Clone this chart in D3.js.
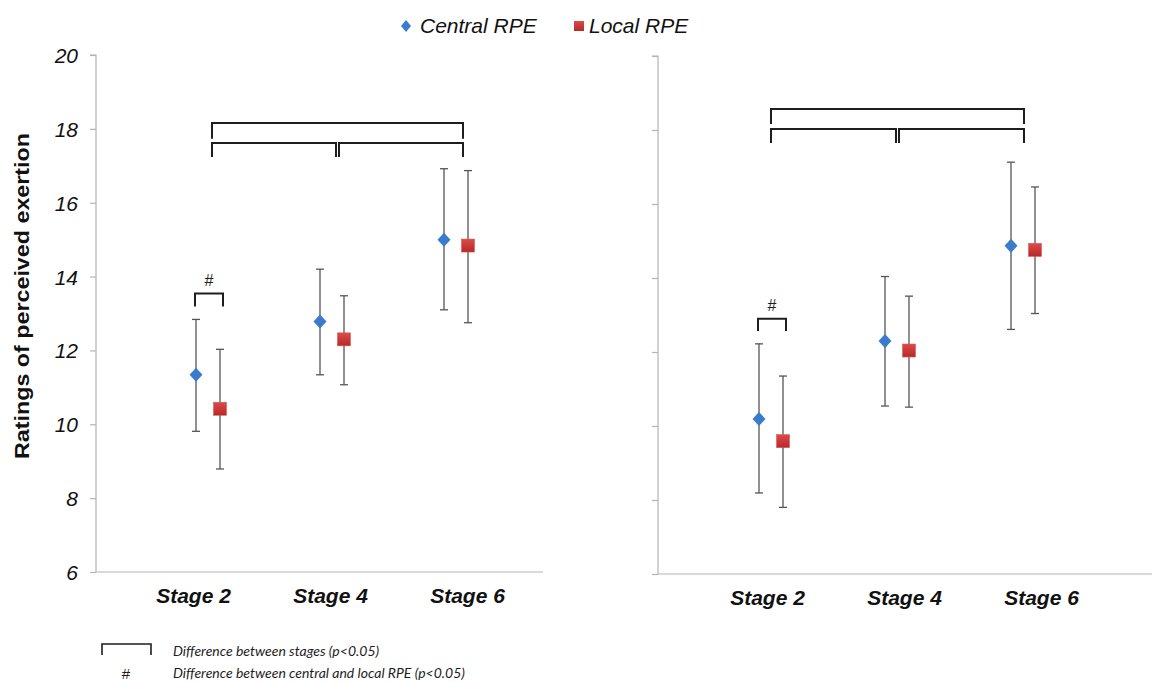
<!DOCTYPE html>
<html>
<head>
<meta charset="utf-8">
<script src="https://cdn.jsdelivr.net/npm/d3@7"></script>
<style>
  body { margin: 0; background: #fff; }
  svg { display: block; }
</style>
</head>
<body>
<svg id="chart" width="1152" height="682"></svg>
<script>
// ---- data ----
const stages = ["Stage 2", "Stage 4", "Stage 6"];
const yTicks = [6, 8, 10, 12, 14, 16, 18, 20];
const seriesNames = ["Central RPE", "Local RPE"];

// left panel: mean and error-bar ends
const centralA    = [11.34, 12.78, 15.00];
const centralA_hi = [12.84, 14.20, 16.92];
const centralA_lo = [9.81, 11.34, 13.10];
const localA      = [10.42, 12.30, 14.84];
const localA_hi   = [12.03, 13.48, 16.87];
const localA_lo   = [8.79, 11.07, 12.75];

// right panel: mean and error-bar ends
const centralB    = [10.19, 12.30, 14.87];
const centralB_hi = [12.22, 14.04, 17.13];
const centralB_lo = [8.19, 10.54, 12.61];
const localB      = [9.59, 12.04, 14.76];
const localB_hi   = [11.35, 13.51, 16.46];
const localB_lo   = [7.80, 10.51, 13.04];

// significance brackets between stages (stage indices, bar level, leg end)
const stageBracketsA = [
  { from: 0, to: 2, top: 18.16, foot: 17.73 },
  { from: 0, to: 1, top: 17.62, foot: 17.24 },
  { from: 1, to: 2, top: 17.62, foot: 17.24 }
];
const stageBracketsB = [
  { from: 0, to: 2, top: 18.57, foot: 18.16 },
  { from: 0, to: 1, top: 18.03, foot: 17.65 },
  { from: 1, to: 2, top: 18.03, foot: 17.65 }
];
// central vs local difference marks
const hashA = [{ stage: 0, top: 13.54, foot: 13.19 }];
const hashB = [{ stage: 0, top: 12.90, foot: 12.57 }];

const noteLines = [
  "Difference between stages (p<0.05)",
  "Difference between central and local RPE (p<0.05)"
];

// ---- layout ----
const BLUE = "#3b7bcc";
const RED = "#c62f2f";
const AXIS = "#b3b3b3";
const ERR = "#555";
const INK = "#1e1e1e";
const FONT = "'Liberation Sans', Arial, sans-serif";

const svg = d3.select("#chart");
const defs = svg.append("defs");
const grad = defs.append("linearGradient").attr("id", "redFill")
  .attr("x1", 0).attr("y1", 0).attr("x2", 0).attr("y2", 1);
grad.append("stop").attr("offset", "0%").attr("stop-color", "#dc4a48");
grad.append("stop").attr("offset", "100%").attr("stop-color", "#b8292a");

const panels = [
  {
    axisX: 96, endX: 543, yTop: 55, yBottom: 572,
    groups: [208, 456], labels: [193, 467], brackets: [212, 463],
    tickLabels: true,
    central: centralA, centralHi: centralA_hi, centralLo: centralA_lo,
    local: localA, localHi: localA_hi, localLo: localA_lo,
    stageBrackets: stageBracketsA, hash: hashA
  },
  {
    axisX: 658, endX: 1152, yTop: 56, yBottom: 574,
    groups: [771, 1023], labels: [767, 1041], brackets: [771, 1024],
    tickLabels: false,
    central: centralB, centralHi: centralB_hi, centralLo: centralB_lo,
    local: localB, localHi: localB_hi, localLo: localB_lo,
    stageBrackets: stageBracketsB, hash: hashB
  }
];

const SERIES_OFFSET = 12;

panels.forEach(p => {
  const g = svg.append("g");
  const y = d3.scaleLinear().domain([6, 20]).range([p.yBottom, p.yTop]);
  const gx = d3.scalePoint().domain(stages).range(p.groups);
  const lx = d3.scalePoint().domain(stages).range(p.labels);
  const bx = d3.scalePoint().domain(stages).range(p.brackets);

  // y axis
  const yAxis = d3.axisLeft(y).tickValues(yTicks).tickSize(6).tickPadding(12)
    .tickFormat(p.tickLabels ? d3.format("d") : "");
  const ya = g.append("g").attr("transform", `translate(${p.axisX},0)`).call(yAxis);
  ya.select(".domain").attr("stroke", AXIS).attr("stroke-width", 1.2)
    .attr("d", `M-6,${p.yTop}H0V${p.yBottom}`);
  ya.selectAll(".tick line").attr("stroke", AXIS).attr("stroke-width", 1.2);
  ya.selectAll(".tick text").attr("fill", "#111")
    .style("font", `italic 21px ${FONT}`).attr("dy", "0.36em");

  // x axis baseline
  g.append("line")
    .attr("x1", p.axisX).attr("x2", p.endX)
    .attr("y1", p.yBottom).attr("y2", p.yBottom)
    .attr("stroke", AXIS).attr("stroke-width", 1.2);

  // stage labels
  const xAxis = d3.axisBottom(lx).tickSize(0).tickPadding(0);
  const xa = g.append("g").attr("transform", `translate(0,${p.yBottom + 31})`).call(xAxis);
  xa.select(".domain").remove();
  xa.selectAll(".tick text").attr("fill", "#111").attr("dy", 0)
    .style("font", `italic bold 21px ${FONT}`);

  // series
  const series = [
    { name: seriesNames[0], mean: p.central, hi: p.centralHi, lo: p.centralLo, dx: -SERIES_OFFSET, shape: "diamond" },
    { name: seriesNames[1], mean: p.local, hi: p.localHi, lo: p.localLo, dx: SERIES_OFFSET, shape: "square" }
  ];

  series.forEach(s => {
    const pts = stages.map((st, i) => ({ x: gx(st) + s.dx, m: s.mean[i], hi: s.hi[i], lo: s.lo[i] }));
    const eb = g.append("g").attr("stroke", ERR).attr("stroke-width", 1.3);
    eb.selectAll("line.v").data(pts).join("line").attr("class", "v")
      .attr("x1", d => d.x).attr("x2", d => d.x)
      .attr("y1", d => y(d.hi)).attr("y2", d => y(d.lo));
    eb.selectAll("line.cap-hi").data(pts).join("line").attr("class", "cap-hi")
      .attr("x1", d => d.x - 4).attr("x2", d => d.x + 4)
      .attr("y1", d => y(d.hi)).attr("y2", d => y(d.hi));
    eb.selectAll("line.cap-lo").data(pts).join("line").attr("class", "cap-lo")
      .attr("x1", d => d.x - 4).attr("x2", d => d.x + 4)
      .attr("y1", d => y(d.lo)).attr("y2", d => y(d.lo));

    if (s.shape === "diamond") {
      g.selectAll(null).data(pts).join("path")
        .attr("d", d => `M${d.x},${y(d.m) - 7}L${d.x + 6.5},${y(d.m)}L${d.x},${y(d.m) + 7}L${d.x - 6.5},${y(d.m)}Z`)
        .attr("fill", BLUE);
    } else {
      g.selectAll(null).data(pts).join("rect")
        .attr("x", d => d.x - 6.5).attr("y", d => y(d.m) - 6.5)
        .attr("width", 13).attr("height", 13)
        .attr("fill", "url(#redFill)").attr("stroke", "#d65a58").attr("stroke-width", 0.6);
    }
  });

  // stage-difference brackets
  const mid = 1;
  g.selectAll(null).data(p.stageBrackets).join("path")
    .attr("d", b => {
      const x1 = bx(stages[b.from]) + (b.from === mid ? 1.5 : 0);
      const x2 = bx(stages[b.to]) - (b.to === mid ? 1.5 : 0);
      return `M${x1},${y(b.foot)}V${y(b.top)}H${x2}V${y(b.foot)}`;
    })
    .attr("fill", "none").attr("stroke", INK).attr("stroke-width", 2);

  // central vs local difference
  g.selectAll(null).data(p.hash).join("path")
    .attr("d", h => {
      const x1 = gx(stages[h.stage]) - SERIES_OFFSET - 1;
      const x2 = gx(stages[h.stage]) + SERIES_OFFSET + 3;
      return `M${x1},${y(h.foot)}V${y(h.top)}H${x2}V${y(h.foot)}`;
    })
    .attr("fill", "none").attr("stroke", INK).attr("stroke-width", 2);
  g.selectAll(null).data(p.hash).join("text")
    .attr("x", h => gx(stages[h.stage]) + 1)
    .attr("y", h => y(h.top) - 8)
    .attr("text-anchor", "middle")
    .style("font", `16px ${FONT}`).attr("fill", INK)
    .text("#");
});

// y-axis title
svg.append("text")
  .attr("transform", "translate(29,296) rotate(-90)")
  .attr("text-anchor", "middle")
  .attr("textLength", 326).attr("lengthAdjust", "spacingAndGlyphs")
  .style("font", `bold 21px ${FONT}`).attr("fill", "#111")
  .text("Ratings of perceived exertion");

// legend
const legend = svg.append("g");
legend.append("path").attr("d", "M406,20L411,26L406,32L401,26Z").attr("fill", BLUE);
legend.append("text").attr("x", 420).attr("y", 33)
  .style("font", `italic 21px ${FONT}`).attr("fill", "#111").text(seriesNames[0]);
legend.append("rect").attr("x", 574).attr("y", 21).attr("width", 10).attr("height", 10)
  .attr("fill", "url(#redFill)");
legend.append("text").attr("x", 589).attr("y", 33)
  .style("font", `italic 21px ${FONT}`).attr("fill", "#111").text(seriesNames[1]);

// notes below the chart
const notes = svg.append("g");
notes.append("path").attr("d", "M102,655V644H151V655")
  .attr("fill", "none").attr("stroke", INK).attr("stroke-width", 1.6);
notes.append("text").attr("x", 126).attr("y", 679).attr("text-anchor", "middle")
  .style("font", `15px ${FONT}`).attr("fill", INK).text("#");
notes.selectAll(null).data(noteLines).join("text")
  .attr("x", 173).attr("y", (d, i) => 656 + i * 22)
  .style("font", "italic 14px Lato, 'Open Sans', sans-serif").attr("fill", INK)
  .text(d => d);
</script>
</body>
</html>
